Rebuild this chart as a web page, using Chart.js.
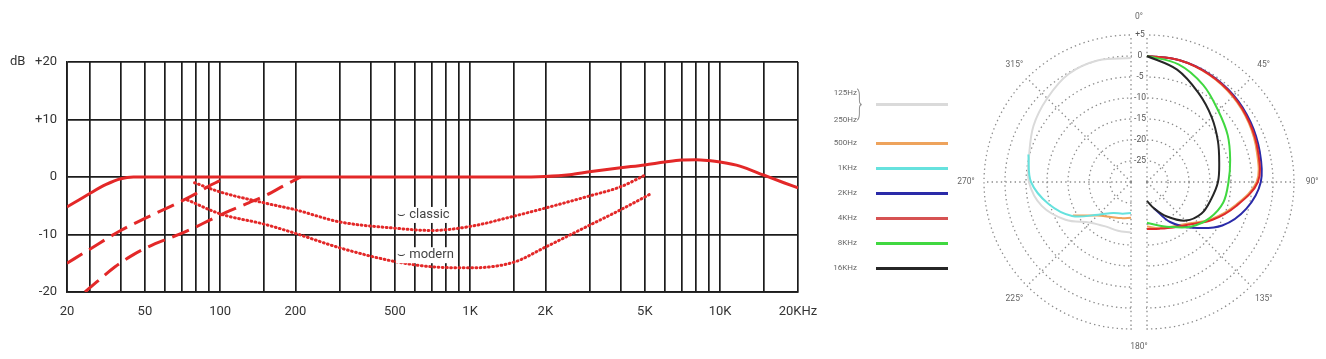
<!DOCTYPE html>
<html>
<head>
<meta charset="utf-8">
<script src="https://cdn.jsdelivr.net/npm/chart.js@4.4.1/dist/chart.umd.min.js"></script>
<style>
  html, body { margin: 0; padding: 0; background: #fff; overflow: hidden; }
  body { width: 1326px; height: 359px; position: relative; font-family: Roboto, 'Liberation Sans', sans-serif; }
  canvas { position: absolute; }
  #freq { left: 0; top: 0; }
  #polarL { left: 951px; top: 12px; }
  #polarR { left: 967px; top: 12px; }
  .lab { position: absolute; width: 40px; text-align: right; font-size: 8px; line-height: 10px; color: #666; }
  .swatch { position: absolute; left: 876px; width: 72px; height: 2.5px; }
  .brace { position: absolute; left: 857px; top: 84px; font-size: 34px; line-height: 36px; color: #888; font-weight: 300; transform: scaleX(0.45); transform-origin: left center; }
</style>
</head>
<body>
<canvas id="freq" width="830" height="359"></canvas>
<div id="legend"></div>
<canvas id="polarL" width="360" height="340"></canvas>
<canvas id="polarR" width="360" height="340"></canvas>
<script>
// ---- frequency response ----
const gridFreqs = [24.4, 30, 40, 50, 60, 70, 80, 90, 100, 150, 200, 300, 400, 500, 600, 700, 800, 900,
  1000, 1500, 2000, 3000, 4000, 5000, 6000, 7000, 8000, 9000, 10000, 15000, 20500];
const labelFreqs = [24.4, 50, 100, 200, 500, 1000, 2000, 5000, 10000, 20500];
const freqLabels = ['20', '50', '100', '200', '500', '1K', '2K', '5K', '10K', '20KHz'];
const dbTicks = [-20, -10, 0, 10, 20];
const dbLabels = ['-20', '-10', '0', '+10', 'dB   +20'];

const mainFreq = [24.4, 27, 30, 35, 40, 45, 50, 100, 500, 1000, 1500, 2000, 2500, 3000, 4000, 5000, 6000, 7000, 8000, 9000, 10000, 12000, 15000, 18000, 20500];
const mainDb = [-5.2, -4.1, -2.9, -1.3, -0.3, 0, 0, 0, 0, 0, 0, 0.1, 0.4, 0.9, 1.6, 2.1, 2.6, 2.95, 3.0, 2.85, 2.6, 1.9, 0.3, -1.0, -1.9];

const cutAFreq = [24.4, 30, 40, 50, 60, 70, 80, 90, 100, 106];
const cutADb = [-15, -12.6, -9.3, -7.2, -5.6, -4.2, -2.9, -1.6, -0.6, 0];

const cutBFreq = [28.8, 32, 38, 45, 55, 72, 90, 106, 130, 154, 180, 210];
const cutBDb = [-20, -18.3, -15.6, -13.5, -11.6, -9.6, -7.6, -6.1, -4.5, -3.1, -1.5, 0];

const classicFreq = [79, 100, 150, 200, 300, 500, 700, 1000, 1500, 2000, 3000, 4000, 5000];
const classicDb = [-1.0, -2.6, -4.5, -5.7, -7.8, -8.9, -9.3, -8.6, -6.8, -5.4, -3.3, -1.7, 0.3];

const modernFreq = [74, 100, 150, 200, 300, 500, 700, 1000, 1500, 2000, 3000, 4000, 5350];
const modernDb = [-4, -6.4, -8.2, -9.8, -12.3, -14.7, -15.6, -15.8, -14.8, -12.2, -8.4, -5.7, -2.8];

const noteLabels = ['\u2323 classic', '\u2323 modern'];
const noteFreq = [510, 510];
const noteDb = [-6.6, -13.6];

// ---- polar pattern (dB, every 15 degrees) ----
const polarAngles = [0, 15, 30, 45, 60, 75, 90, 105, 120, 135, 150, 165, 180, 195, 210, 225, 240, 255, 270, 285, 300, 315, 330, 345];
const ringValues = [5, 0, -5, -10, -15, -20, -25];
const ringLabels = ['+5', '0', '-5', '-10', '-15', '-20', '-25'];
const angleMarks = [0, 45, 90, 135, 180, 225, 270, 315];
const angleMarkLabels = ['0\u00b0', '45\u00b0', '90\u00b0', '135\u00b0', '180\u00b0', '225\u00b0', '270\u00b0', '315\u00b0'];

// right half: 0..180
const r500 = [0, 0, -0.5, -1.2, -2, -2.9, -3.9, -8.3, -12.3, -16, -17.8, -18.6, -19.4];
const r2k = [0, 0, -0.3, -0.8, -1.5, -2.2, -2.9, -5.5, -9.3, -14.6, -19, -23.5, null];
const r4k = [0, 0, -0.4, -1, -1.8, -2.6, -3.6, -8, -12, -15.7, -17.5, -18.5, -18.8];
const r8k = [0, -1, -3.3, -6, -7.8, -9.5, -10.6, -11.2, -12.8, -15, -17.6, -19.3, -20.3];
const r16k = [0, -2.3, -5.5, -8.2, -10.5, -12.2, -13.1, -14.2, -15, -17, -20.5, -23.5, -25.5];
// left half: 180..360
const l125_250 = [-18, -18, -17.8, -16.3, -12, -8, -5.7, -4.9, -3.2, -1.8, -0.3, 0, -0.5];
const l500 = [-21.5, -21.1, -20.4, -18.7, -14, null, null, null, null, null, null, null, null];
const l1k = [-22.6, -22.2, -21.5, -19, -13.8, -9.7, -6.2, -4.7, null, null, null, null, null];

const legendNames = ['125Hz', '250Hz', '500Hz', '1KHz', '2KHz', '4KHz', '8KHz', '16KHz'];
const legendColors = ['#dadada', '#eea35c', '#66e2de', '#2a2aa8', '#d65252', '#40d840', '#262626'];

Chart.defaults.font.family = "Roboto, 'Liberation Sans', sans-serif";
Chart.defaults.animation = false;

const RED = '#e32828';
const pts = (xs, ys) => xs.map((x, i) => ({ x: x, y: ys[i] }));

const notesPlugin = {
  id: 'notes',
  afterDatasetsDraw(chart) {
    const ctx = chart.ctx, xs = chart.scales.x, ys = chart.scales.y;
    ctx.save();
    ctx.font = '13px Roboto';
    ctx.textBaseline = 'middle';
    noteLabels.forEach((t, i) => {
      const x = xs.getPixelForValue(noteFreq[i]);
      const y = ys.getPixelForValue(noteDb[i]);
      const w = ctx.measureText(t).width;
      ctx.fillStyle = '#fff';
      ctx.fillRect(x - 1, y - 8, w + 3, 16);
      ctx.fillStyle = '#444';
      ctx.fillText(t, x, y);
    });
    ctx.restore();
  }
};

new Chart(document.getElementById('freq'), {
  type: 'line',
  data: {
    datasets: [
      { data: pts(mainFreq, mainDb), borderColor: RED, borderWidth: 3 },
      { data: pts(cutAFreq, cutADb), borderColor: RED, borderWidth: 3, borderDash: [18, 8] },
      { data: pts(cutBFreq, cutBDb), borderColor: RED, borderWidth: 3, borderDash: [18, 8] },
      { data: pts(classicFreq, classicDb), borderColor: RED, borderWidth: 3, borderDash: [0.8, 3.4], borderCapStyle: 'round' },
      { data: pts(modernFreq, modernDb), borderColor: RED, borderWidth: 3, borderDash: [0.8, 3.4], borderCapStyle: 'round' }
    ]
  },
  options: {
    responsive: false,
    events: [],
    layout: { padding: { left: 0, top: 62, right: 32, bottom: 0 } },
    elements: { point: { radius: 0 }, line: { tension: 0.4, cubicInterpolationMode: 'monotone' } },
    plugins: { legend: { display: false }, tooltip: { enabled: false } },
    scales: {
      x: {
        type: 'logarithmic', min: 24.4, max: 20500,
        afterBuildTicks: s => { s.ticks = gridFreqs.map(v => ({ value: v })); },
        afterFit: s => { s.height = 67; },
        grid: { color: '#1c1c1c', lineWidth: 1.7, drawTicks: false },
        border: { color: '#1c1c1c', width: 1.7 },
        ticks: {
          autoSkip: false, maxRotation: 0, padding: 12, color: '#333', font: { size: 13 },
          callback: v => { const i = labelFreqs.indexOf(v); return i >= 0 ? freqLabels[i] : ''; }
        }
      },
      y: {
        min: -20, max: 20,
        afterBuildTicks: s => { s.ticks = dbTicks.map(v => ({ value: v })); },
        afterFit: s => { s.width = 67; },
        grid: { color: '#1c1c1c', lineWidth: 1.7, drawTicks: false },
        border: { color: '#1c1c1c', width: 1.7 },
        ticks: {
          padding: 10, color: '#333', font: { size: 13 },
          callback: v => dbLabels[dbTicks.indexOf(v)]
        }
      }
    }
  },
  plugins: [notesPlugin]
});

// ---- legend ----
const legend = document.getElementById('legend');
function addEl(cls, css, text) {
  const d = document.createElement('div');
  d.className = cls;
  Object.assign(d.style, css);
  if (text) d.textContent = text;
  legend.appendChild(d);
  return d;
}
addEl('lab', { left: '817px', top: '88px' }, legendNames[0]);
addEl('lab', { left: '817px', top: '115px' }, legendNames[1]);
addEl('brace', {}, '}');
addEl('swatch', { top: '103px', background: legendColors[0] });
legendNames.slice(2).forEach((n, k) => {
  const y = 143 + 25 * k;
  addEl('lab', { left: '817px', top: (y - 5) + 'px' }, n);
  addEl('swatch', { top: (y - 1) + 'px', background: legendColors[k + 1] });
});

// ---- polar halves ----
const toRight = half => polarAngles.map((a, i) => (a <= 180 ? half[i] : null));
const toLeft = half => polarAngles.map(a => (a === 0 ? half[12] : a >= 180 ? half[(a - 180) / 15] : null));

const GRID = '#8c8c8c';
const DASH = [1.4, 3.2];

function halfPlugin(side) {
  return {
    id: 'half' + side,
    beforeDraw(chart) {
      const s = chart.scales.r, ctx = chart.ctx;
      ctx.save();
      ctx.beginPath();
      if (side === 'L') ctx.rect(0, 0, s.xCenter + 1, chart.height);
      else ctx.rect(s.xCenter - 1, 0, chart.width, chart.height);
      ctx.clip();
    },
    afterDraw(chart) {
      const s = chart.scales.r, ctx = chart.ctx;
      ctx.restore();
      ctx.save();
      ctx.font = '8.5px Roboto';
      ctx.textAlign = 'center';
      ctx.textBaseline = 'middle';
      ctx.fillStyle = '#666';
      angleMarks.forEach((a, k) => {
        const onRight = a <= 180;
        if ((side === 'R') !== onRight) return;
        const p = s.getPointPosition(polarAngles.indexOf(a), 165);
        const x = (a === 0 || a === 180) ? s.xCenter - 8 : p.x;
        ctx.fillText(angleMarkLabels[k], x, p.y);
      });
      if (side === 'R') {
        ringValues.forEach((v, k) => {
          const y = s.yCenter - s.getDistanceFromCenterForValue(v);
          const x = s.xCenter - 7;
          const w = ctx.measureText(ringLabels[k]).width;
          ctx.fillStyle = '#fff';
          ctx.fillRect(x - w / 2 - 1, y - 4, w + 2, 8);
          ctx.fillStyle = '#555';
          ctx.fillText(ringLabels[k], x, y);
        });
      }
      ctx.restore();
    }
  };
}

function polarOptions() {
  return {
    responsive: false,
    events: [],
    layout: { padding: { left: 33, right: 33, top: 23, bottom: 23 } },
    elements: { point: { radius: 0 }, line: { tension: 0.35, fill: false, borderWidth: 2 } },
    plugins: { legend: { display: false }, tooltip: { enabled: false } },
    scales: {
      r: {
        min: -30, max: 5,
        ticks: { display: false, stepSize: 5 },
        pointLabels: { display: false },
        grid: { circular: true, color: GRID, lineWidth: 1.3 },
        border: { dash: DASH },
        angleLines: {
          color: GRID, borderDash: DASH,
          lineWidth: c => (polarAngles[c.index] % 45 === 0 ? 1.3 : 0)
        }
      }
    }
  };
}

const lineDs = (data, color) => ({ data: data, borderColor: color, fill: false, spanGaps: false });

new Chart(document.getElementById('polarL'), {
  type: 'radar',
  data: {
    labels: polarAngles,
    datasets: [
      lineDs(toLeft(l1k), legendColors[2]),
      lineDs(toLeft(l500), legendColors[1]),
      lineDs(toLeft(l125_250), legendColors[0])
    ]
  },
  options: polarOptions(),
  plugins: [halfPlugin('L')]
});

new Chart(document.getElementById('polarR'), {
  type: 'radar',
  data: {
    labels: polarAngles,
    datasets: [
      lineDs(toRight(r16k), legendColors[6]),
      lineDs(toRight(r8k), legendColors[5]),
      lineDs(toRight(r4k), '#e02a2a'),
      lineDs(toRight(r2k), legendColors[3]),
      lineDs(toRight(r500), legendColors[1])
    ]
  },
  options: polarOptions(),
  plugins: [halfPlugin('R')]
});
</script>
</body>
</html>
